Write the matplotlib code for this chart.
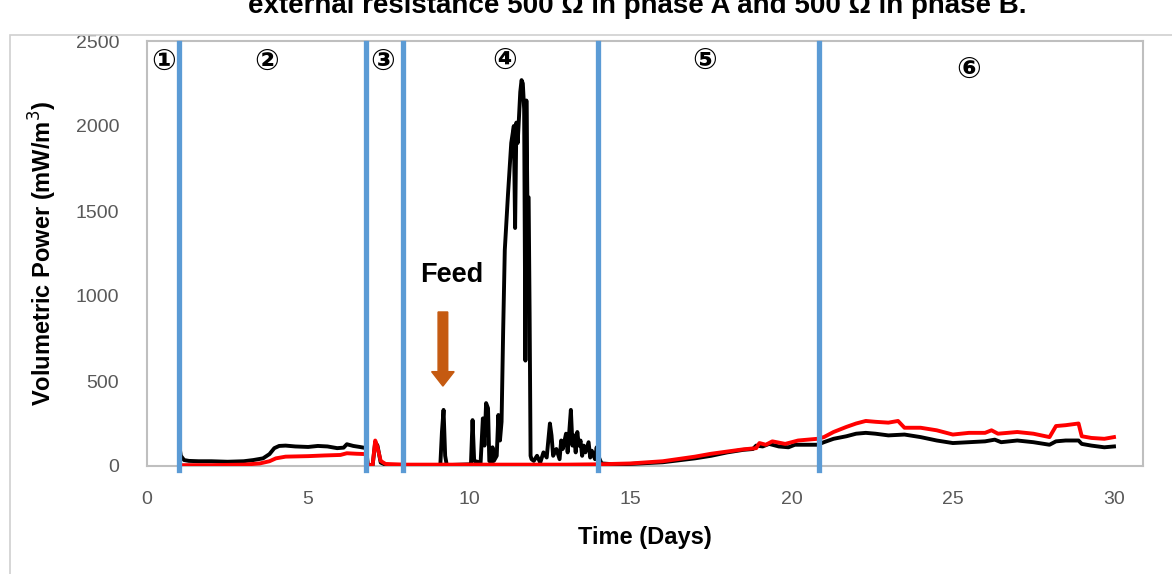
import matplotlib.pyplot as plt
import numpy as np
from matplotlib.patches import Rectangle

# phase A (black)
days_a = [1.0, 1.05, 1.15, 1.3, 1.6, 2.0, 2.5, 3.0, 3.3, 3.6, 3.8, 3.95, 4.1, 4.3, 4.6, 5.0, 5.3, 5.6, 5.9, 6.1, 6.2, 6.4, 6.6, 6.8,
          6.85, 7.0, 7.08, 7.15, 7.25, 7.4, 7.6, 8.0, 8.5, 9.1, 9.15, 9.2, 9.25, 9.3, 9.8, 10.05, 10.1, 10.15, 10.35, 10.42,
          10.47, 10.52, 10.58, 10.62, 10.68, 10.72, 10.76, 10.85, 10.9, 10.95, 11.0, 11.05, 11.1, 11.2, 11.3, 11.38, 11.42,
          11.46, 11.5, 11.54, 11.58, 11.62, 11.66, 11.7, 11.74, 11.77, 11.8, 11.84, 11.87, 11.9, 11.93, 12.0, 12.1, 12.2,
          12.3, 12.4, 12.45, 12.5, 12.55, 12.6, 12.7, 12.8, 12.85, 12.9, 13.0, 13.05, 13.1, 13.15, 13.2, 13.25, 13.3, 13.35,
          13.4, 13.45, 13.5, 13.55, 13.6, 13.7, 13.75, 13.8, 13.9, 13.95, 14.0, 14.1, 14.5, 15.0, 16.0, 17.0, 17.5, 18.0,
          18.5, 18.8, 18.9, 19.1, 19.3, 19.6, 19.9, 20.1, 20.5, 20.8, 21.0, 21.3, 21.7, 22.0, 22.3, 22.6, 23.0, 23.5, 24.0,
          24.5, 25.0, 25.5, 26.0, 26.3, 26.5, 27.0, 27.5, 28.0, 28.2, 28.5, 28.9, 29.0, 29.3, 29.7, 30.0]
power_a = [120, 60, 35, 30, 28, 28, 25, 28, 35, 45, 70, 105, 118, 120, 115, 112, 118, 115, 105, 108, 128, 118, 112, 105,
           5, 5, 140, 120, 20, 8, 5, 5, 5, 5, 200, 330, 60, 5, 8, 10, 270, 30, 20, 280,
           120, 370, 340, 30, 20, 110, 30, 60, 300, 150, 260, 800, 1270, 1600, 1900, 2000, 1400,
           2020, 1900, 2050, 2200, 2270, 2250, 2100, 620, 2150, 1580, 1580, 900, 60, 40, 30, 60, 20,
           80, 50, 150, 250, 180, 60, 100, 40, 150, 100, 190, 80, 200, 330, 120, 180, 80, 200,
           120, 150, 60, 120, 80, 140, 50, 90, 40, 110, 60, 15, 10, 12, 22, 45, 60, 80,
           95, 100, 120, 115, 130, 115, 110, 125, 125, 125, 140, 160, 175, 190, 195, 190, 180, 185, 170,
           150, 135, 140, 145, 155, 140, 150, 140, 125, 145, 150, 150, 130, 120, 110, 115]

# phase B (red)
days_b = [1.0, 2.0, 3.0, 3.5, 3.8, 4.0, 4.3, 5.0, 5.5, 6.0, 6.2, 6.5, 6.8, 6.85, 7.0, 7.08, 7.15, 7.25, 7.4, 8.0, 9.0,
          10.0, 11.0, 12.0, 13.0, 14.0, 15.0, 16.0, 17.0, 17.5, 18.0, 18.5, 18.9, 19.0, 19.2, 19.4, 19.8, 20.2, 20.8,
          21.0, 21.3, 21.7, 22.0, 22.3, 22.6, 23.0, 23.3, 23.5, 24.0, 24.5, 25.0, 25.5, 26.0, 26.2, 26.4, 27.0, 27.5,
          28.0, 28.2, 28.5, 28.9, 29.0, 29.3, 29.7, 30.0]
power_b = [5, 5, 8, 15, 28, 45, 55, 58, 62, 65, 75, 72, 70, 5, 5, 150, 110, 30, 12, 8, 8,
           8, 8, 8, 8, 10, 15, 28, 55, 72, 85, 98, 105, 135, 125, 145, 130, 150, 160,
           170, 200, 230, 250, 265, 260, 255, 265, 225, 225, 210, 185, 195, 195, 210, 190, 200, 190,
           170, 235, 240, 250, 175, 165, 160, 170]

phase_bounds = [1.0, 6.8, 7.95, 14.0, 20.85]
phase_labels = ['①', '②', '③', '④', '⑤', '⑥']
label_x = [0.5, 3.7, 7.3, 11.1, 17.3, 25.5]
label_y = [2375, 2375, 2375, 2385, 2385, 2330]

fig = plt.figure(figsize=(11.72, 5.74), dpi=100)
ax = fig.add_axes([147/1172, 1-466/574, (1143-147)/1172, (466-41)/574])

# outer chart border
fig.patches.append(Rectangle((10/1172, -0.1), 1.1, 1.1 - 35/574, transform=fig.transFigure,
                             fill=False, edgecolor='#D0D0D0', linewidth=1.2))

ax.plot(days_a, power_a, color='black', linewidth=2.8, zorder=3)
ax.plot(days_b, power_b, color='#FF0000', linewidth=2.8, zorder=4)

for b in phase_bounds:
    ax.plot([b, b], [-25, 2490], color='#5B9BD5', linewidth=3.8, zorder=5, clip_on=False)

for t, x, y in zip(phase_labels, label_x, label_y):
    ax.text(x, y, t, ha='center', va='center', fontsize=21, fontweight='bold',
            family=['DejaVu Sans', 'Noto Sans CJK SC'])

ax.text(9.45, 1125, 'Feed', ha='center', va='center', fontsize=19.5, fontweight='bold', family='Liberation Sans')
ax.arrow(9.18, 906, 0, 470 - 906, width=0.3, head_width=0.7, head_length=85, length_includes_head=True,
         color='#C55A11', zorder=6)

ax.set_xlim(0, 30.9)
ax.set_ylim(0, 2500)
ax.set_xticks(np.arange(0, 31, 5))
ax.set_yticks(np.arange(0, 2501, 500))
for s in ax.spines.values():
    s.set_color('#BFBFBF')
    s.set_linewidth(1.5)
ax.tick_params(length=0, labelsize=14, labelcolor='#595959')
ax.tick_params(axis='x', pad=18)
ax.tick_params(axis='y', pad=20)
for lab in ax.get_xticklabels() + ax.get_yticklabels():
    lab.set_family('Liberation Sans')

ax.set_xlabel('Time (Days)', fontsize=17, fontweight='bold', family='Liberation Sans', labelpad=13)
ax.set_ylabel('Volumetric Power (mW/m$^3$)', fontsize=17, fontweight='bold', family='Liberation Sans', labelpad=12)

fig.text(637/1172, 1 - 13/574, 'external resistance 500 Ω in phase A and 500 Ω in phase B.', ha='center',
         va='baseline', fontsize=20, fontweight='bold', family='Liberation Sans')

plt.savefig('out.png', dpi=100)
